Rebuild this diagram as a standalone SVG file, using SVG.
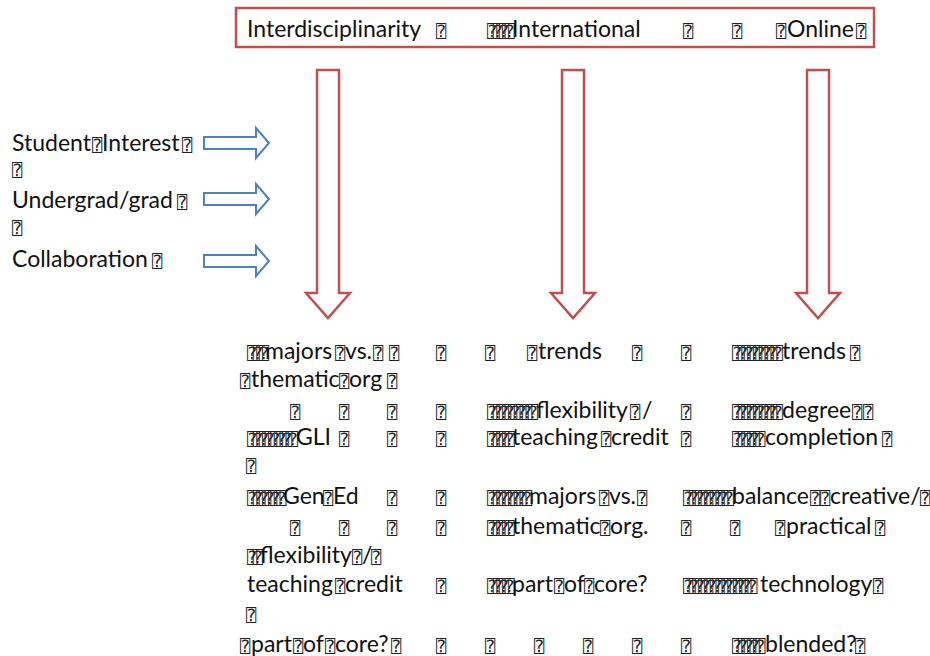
<svg xmlns="http://www.w3.org/2000/svg" width="930" height="656" viewBox="0 0 930 656">
<style>
.t{font-family:Lato,"Open Sans","Liberation Sans",sans-serif;font-size:23px;fill:#111}
.f{font-family:"DejaVu Sans Mono","DejaVu Sans",monospace;font-size:17px;fill:#222}
.c{font-family:"DejaVu Sans Mono","DejaVu Sans",monospace;font-size:17px;fill:#222;letter-spacing:-4.4px}
.ra{fill:#fff;stroke:#c0504d;stroke-width:2.5;stroke-linejoin:miter}
.ba{fill:#fff;stroke:#4f81bd;stroke-width:2;stroke-linejoin:miter}
</style>
<rect width="930" height="656" fill="#fff"/>
<g id="header">
<rect x="236" y="8" width="638" height="39" fill="#fff" stroke="#c0504d" stroke-width="2.5"/>
<text class="t" y="37"><tspan x="247">Interdisciplinarity</tspan><tspan class="f" x="436">⍰</tspan><tspan class="c" x="487">⍰⍰⍰⍰</tspan><tspan x="512">International</tspan><tspan class="f" x="683">⍰</tspan><tspan class="f" x="732">⍰</tspan><tspan class="f" x="776">⍰</tspan><tspan x="787">Online</tspan><tspan class="f" x="856">⍰</tspan></text>
</g>
<g id="labels">
<text class="t" y="151"><tspan x="12">Student</tspan><tspan class="f" x="92">⍰</tspan><tspan x="102">Interest</tspan><tspan class="f" x="182">⍰</tspan></text>
<text class="f" x="12" y="176">⍰</text>
<text class="t" y="208"><tspan x="12">Undergrad/grad</tspan><tspan class="f" x="177">⍰</tspan></text>
<text class="f" x="12" y="234">⍰</text>
<text class="t" y="267"><tspan x="12">Collaboration</tspan><tspan class="f" x="152">⍰</tspan></text>
</g>
<g id="connectors">
<path class="ra" d="M317,70 H339 V293 H350 L328,318 L306,293 H317 Z"/>
<path class="ra" d="M562,70 H584 V293 H595 L573,318 L551,293 H562 Z"/>
<path class="ra" d="M807,70 H829 V293 H840 L818,318 L796,293 H807 Z"/>
<path class="ba" d="M204,137 H256 V128 L269,143 L256,158 V149 H204 Z"/>
<path class="ba" d="M204,193 H256 V184 L269,199 L256,214 V205 H204 Z"/>
<path class="ba" d="M204,255 H256 V246 L269,261 L256,276 V267 H204 Z"/>
</g>
<g id="body">
<text class="t" y="359"><tspan class="c" x="247">⍰⍰⍰</tspan><tspan x="265">majors</tspan><tspan class="f" x="335">⍰</tspan><tspan x="345">vs.</tspan><tspan class="f" x="373">⍰</tspan><tspan class="f" x="389">⍰</tspan><tspan class="f" x="436">⍰</tspan><tspan class="f" x="485">⍰</tspan><tspan class="f" x="527">⍰</tspan><tspan x="538">trends</tspan><tspan class="f" x="632">⍰</tspan><tspan class="f" x="681">⍰</tspan><tspan class="c" x="732">⍰⍰⍰⍰⍰⍰⍰⍰</tspan><tspan x="782">trends</tspan><tspan class="f" x="850">⍰</tspan></text>
<text class="t" y="387"><tspan class="f" x="240">⍰</tspan><tspan x="251">thematic</tspan><tspan class="f" x="339">⍰</tspan><tspan x="349">org</tspan><tspan class="f" x="387">⍰</tspan></text>
<text class="t" y="418"><tspan class="f" x="290">⍰</tspan><tspan class="f" x="339">⍰</tspan><tspan class="f" x="387">⍰</tspan><tspan class="f" x="436">⍰</tspan><tspan class="c" x="487">⍰⍰⍰⍰⍰⍰⍰⍰</tspan><tspan x="536">flexibility</tspan><tspan class="f" x="630">⍰</tspan><tspan x="642">/</tspan><tspan class="f" x="681">⍰</tspan><tspan class="c" x="732">⍰⍰⍰⍰⍰⍰⍰⍰</tspan><tspan x="782">degree</tspan><tspan class="f" x="852">⍰</tspan><tspan class="f" x="863">⍰</tspan></text>
<text class="t" y="445"><tspan class="c" x="247">⍰⍰⍰⍰⍰⍰⍰⍰</tspan><tspan x="296">GLI</tspan><tspan class="f" x="339">⍰</tspan><tspan class="f" x="387">⍰</tspan><tspan class="f" x="436">⍰</tspan><tspan class="c" x="487">⍰⍰⍰⍰</tspan><tspan x="512">teaching</tspan><tspan class="f" x="601">⍰</tspan><tspan x="611">credit</tspan><tspan class="f" x="681">⍰</tspan><tspan class="c" x="732">⍰⍰⍰⍰⍰</tspan><tspan x="765">completion</tspan><tspan class="f" x="882">⍰</tspan></text>
<text class="f" x="246" y="472">⍰</text>
<text class="t" y="504"><tspan class="c" x="247">⍰⍰⍰⍰⍰⍰</tspan><tspan x="283">Gen</tspan><tspan class="f" x="323">⍰</tspan><tspan x="333">Ed</tspan><tspan class="f" x="387">⍰</tspan><tspan class="f" x="436">⍰</tspan><tspan class="c" x="487">⍰⍰⍰⍰⍰⍰⍰</tspan><tspan x="529">majors</tspan><tspan class="f" x="599">⍰</tspan><tspan x="609">vs.</tspan><tspan class="f" x="637">⍰</tspan><tspan class="c" x="683">⍰⍰⍰⍰⍰⍰⍰⍰</tspan><tspan x="732">balance</tspan><tspan class="f" x="810">⍰</tspan><tspan class="f" x="820">⍰</tspan><tspan x="830">creative/</tspan><tspan class="f" x="920">⍰</tspan></text>
<text class="t" y="534"><tspan class="f" x="290">⍰</tspan><tspan class="f" x="339">⍰</tspan><tspan class="f" x="387">⍰</tspan><tspan class="f" x="436">⍰</tspan><tspan class="c" x="487">⍰⍰⍰⍰</tspan><tspan x="512">thematic</tspan><tspan class="f" x="600">⍰</tspan><tspan x="610">org.</tspan><tspan class="f" x="681">⍰</tspan><tspan class="f" x="730">⍰</tspan><tspan class="f" x="775">⍰</tspan><tspan x="786">practical</tspan><tspan class="f" x="875">⍰</tspan></text>
<text class="t" y="563"><tspan class="c" x="247">⍰⍰</tspan><tspan x="260">flexibility</tspan><tspan class="f" x="352">⍰</tspan><tspan x="362">/</tspan><tspan class="f" x="371">⍰</tspan></text>
<text class="t" y="592"><tspan x="247">teaching</tspan><tspan class="f" x="335">⍰</tspan><tspan x="345">credit</tspan><tspan class="f" x="436">⍰</tspan><tspan class="c" x="487">⍰⍰⍰⍰</tspan><tspan x="512">part</tspan><tspan class="f" x="554">⍰</tspan><tspan x="564">of</tspan><tspan class="f" x="584">⍰</tspan><tspan x="594">core?</tspan><tspan class="c" x="683">⍰⍰⍰⍰⍰⍰⍰⍰⍰⍰⍰⍰</tspan><tspan x="760">technology</tspan><tspan class="f" x="873">⍰</tspan></text>
<text class="f" x="246" y="621">⍰</text>
<text class="t" y="652"><tspan class="f" x="240">⍰</tspan><tspan x="251">part</tspan><tspan class="f" x="293">⍰</tspan><tspan x="303">of</tspan><tspan class="f" x="325">⍰</tspan><tspan x="335">core?</tspan><tspan class="f" x="391">⍰</tspan><tspan class="f" x="436">⍰</tspan><tspan class="f" x="485">⍰</tspan><tspan class="f" x="534">⍰</tspan><tspan class="f" x="583">⍰</tspan><tspan class="f" x="632">⍰</tspan><tspan class="f" x="681">⍰</tspan><tspan class="c" x="732">⍰⍰⍰⍰⍰</tspan><tspan x="765">blended?</tspan><tspan class="f" x="855">⍰</tspan></text>
</g>
</svg>
